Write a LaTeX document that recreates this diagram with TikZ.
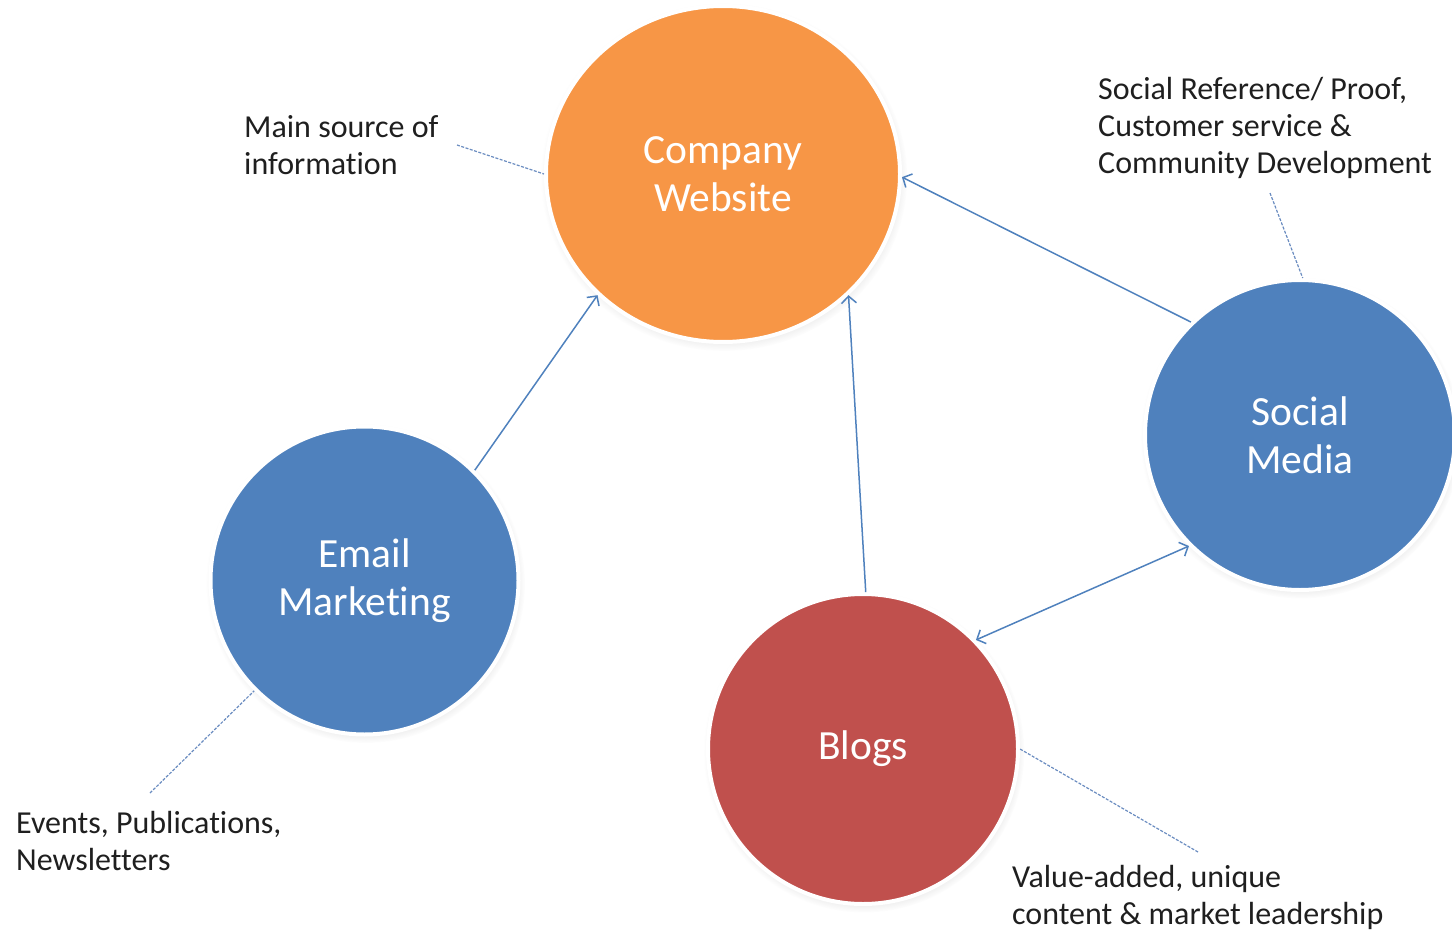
\documentclass[tikz,border=0pt]{standalone}
\usepackage{fontspec}
\setmainfont{Carlito}[RawFeature={-liga;-dlig;-clig}]
\usetikzlibrary{arrows.meta,shapes.geometric,shadows,fadings}
\definecolor{corange}{HTML}{F79646}
\definecolor{cblue}{HTML}{4F81BD}
\definecolor{cred}{HTML}{C0504D}
\definecolor{cline}{HTML}{4F81BD}
\definecolor{cdash}{HTML}{6A8CC0}
\begin{document}
\begin{tikzpicture}[x=1pt,y=-1pt,
  bubble/.style={draw=white, line width=4pt, inner sep=0pt, text=white,
    font=\fontsize{41.5}{48}\selectfont, align=center,
    circular drop shadow={shadow xshift=1pt, shadow yshift=-3pt, shadow scale=1.035, opacity=0.35}},
  roundbubble/.style={bubble, circle, minimum size=#1},
  conn/.style={draw=cline, line width=1.5pt, -{Straight Barb[length=7pt,width=15pt,line width=1.5pt]}},
  dconn/.style={draw=cline, line width=1.5pt, {Straight Barb[length=7pt,width=15pt,line width=1.5pt]}-{Straight Barb[length=7pt,width=15pt,line width=1.5pt]}},
  dashline/.style={draw=cdash, line width=1.2pt, dash pattern=on 3pt off 1.5pt},
  lbl/.style={inner sep=0pt, align=left, anchor=north west, text=black!88,
    font=\fontsize{32}{37}\selectfont}]
\useasboundingbox (0,0) rectangle (1452,931);

% bubbles
\node[bubble, ellipse, fill=corange, minimum width=354pt, minimum height=336pt] (web) at (723,174) {Company\\Website};
\node[roundbubble=308pt, fill=cblue] (email) at (364.5,580.5) {Email\\Marketing};
\node[roundbubble=310pt, fill=cblue] (social) at (1300,435) {Social\\Media};
\node[roundbubble=310pt, fill=cred] (blogs) at (863,749) {Blogs};

% labels
\node[lbl] (lmain) at (244,115) {Main source of\\information};
\node[lbl] (lsocial) at (1098,77) {Social Reference/ Proof,\\Customer service \&\\Community Development};
\node[lbl] (lemail) at (16,811) {Events, Publications,\\Newsletters};
\node[lbl] (lblogs) at (1012,865) {Value-added, unique\\content \& market leadership};

% free ends of the dashed leaders
\coordinate (cmain) at (457,145);
\coordinate (csocial) at (1270,193);
\coordinate (cemail) at (150,793);
\coordinate (cblogs) at (1198,852);

% arrows
\draw[conn] (email.45) -- (web.224);
\draw[conn] (blogs.89) -- (web.316);
\draw[conn] (social.134.5) -- (web.359);
\draw[dconn] (blogs.44.7) -- (social.225.8);

% dashed leaders
\draw[dashline] (cmain) -- (web.180.3);
\draw[dashline] (csocial) -- (social.89);
\draw[dashline] (cemail) -- (email.225);
\draw[dashline] (cblogs) -- (blogs.0.4);
\end{tikzpicture}
\end{document}
